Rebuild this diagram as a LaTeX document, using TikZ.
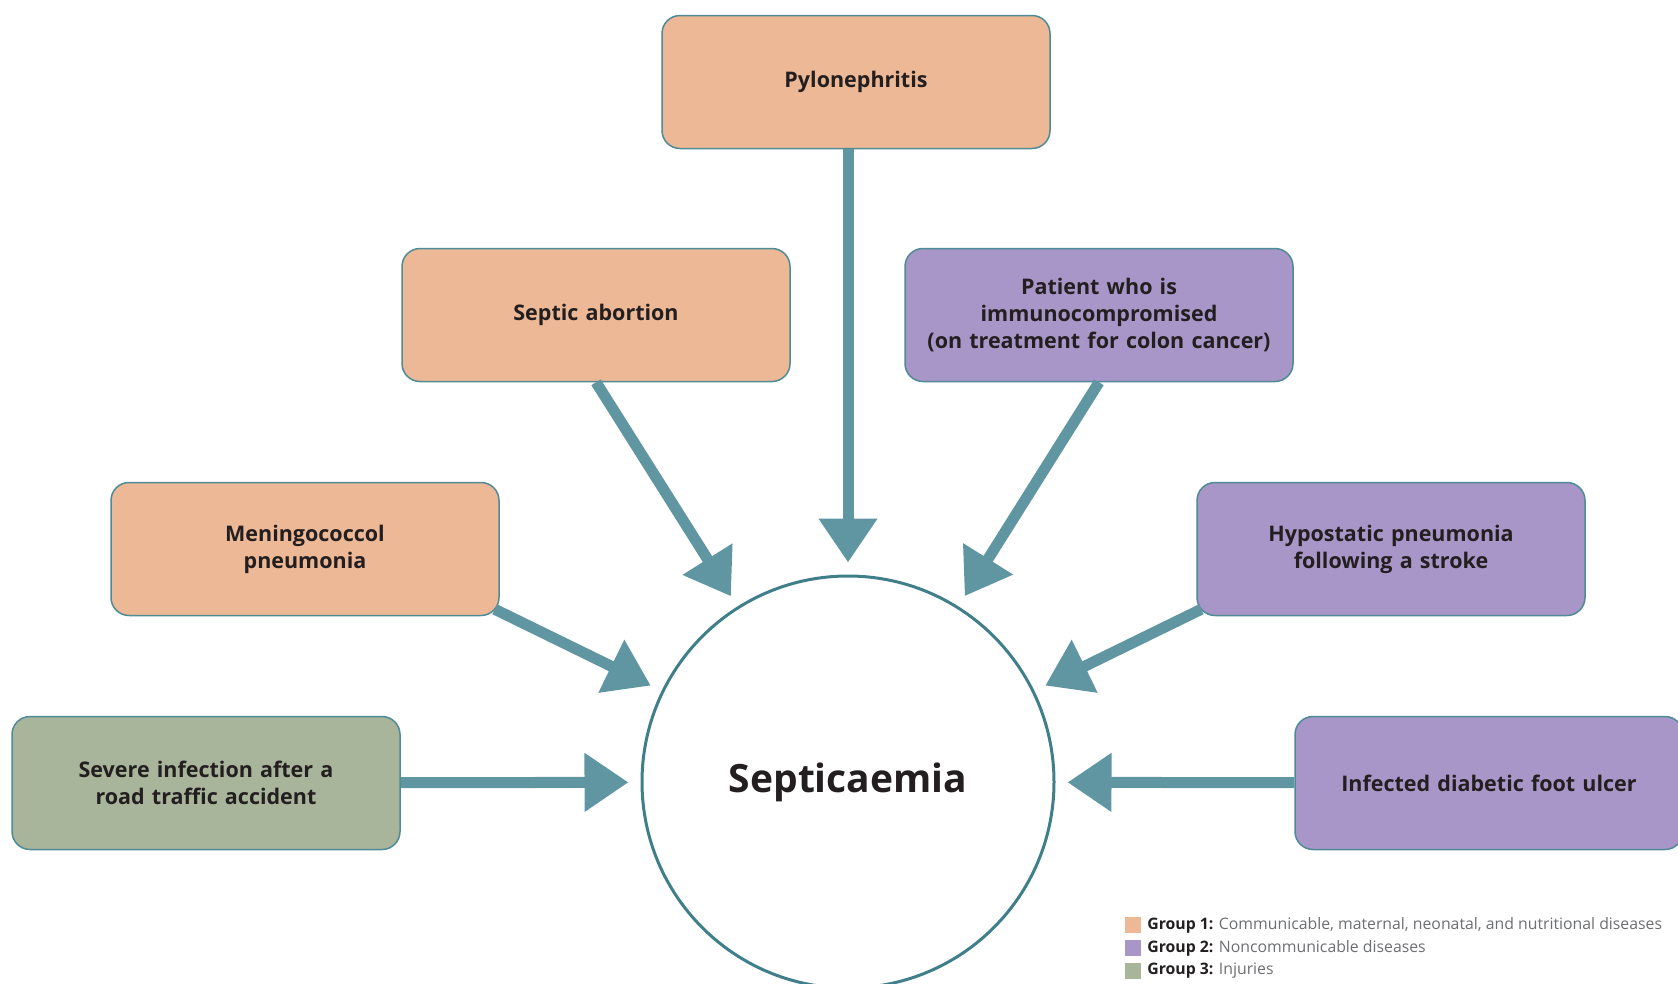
\documentclass[tikz,border=0pt]{standalone}
\usepackage{fontspec}
\setmainfont{Open Sans}
\usepackage{xcolor}
\usepackage{tikz}
\usetikzlibrary{shapes.geometric, arrows.meta, positioning}
\definecolor{grpone}{HTML}{ECB896}
\definecolor{grptwo}{HTML}{A996C8}
\definecolor{grpthree}{HTML}{A9B59B}
\definecolor{edgeteal}{HTML}{4E8B96}
\definecolor{arrowteal}{HTML}{5F96A1}
\definecolor{ringteal}{HTML}{3F7F8A}
\definecolor{textdark}{HTML}{231F20}
\definecolor{legray}{HTML}{6D6E71}
\tikzstyle{cause} = [rectangle, rounded corners=18pt, minimum width=388pt, minimum height=133pt, text width=370pt, align=center, draw=edgeteal, line width=1.5pt, text=textdark, font=\fontsize{21.5}{27}\selectfont\bfseries]
\tikzstyle{groupone} = [cause, fill=grpone]
\tikzstyle{grouptwo} = [cause, fill=grptwo]
\tikzstyle{groupthree} = [cause, fill=grpthree]
\tikzstyle{result} = [circle, minimum size=412pt, draw=ringteal, line width=3pt, fill=white, text=textdark, font=\fontsize{39}{45}\selectfont\bfseries]
\tikzstyle{arrow} = [line width=11pt, draw=arrowteal, -{Triangle[width=56pt,length=44pt]}, shorten >=12pt]
\tikzstyle{legsquare} = [rectangle, minimum size=16pt, inner sep=0pt]
\tikzstyle{legtext} = [inner sep=0pt, text=textdark, font=\fontsize{15.8}{18}\selectfont]

\begin{document}
\begin{tikzpicture}[x=1pt, y=-1pt]
	\useasboundingbox (0,0) rectangle (1678,983);

	\node (sepsis) [result] at (848,782) {Septicaemia};

	\node (pyelo) [groupone] at (856,82) {Pylonephritis};
	\node (abort) [groupone] at (596,315) {Septic abortion};
	\node (immuno) [grouptwo] at (1099,315) {Patient who is\\immunocompromised\\(on treatment for colon cancer)};
	\node (mening) [groupone] at (305,549) {Meningococcol\\pneumonia};
	\node (hypo) [grouptwo] at (1391,549) {Hypostatic pneumonia\\following a stroke};
	\node (trauma) [groupthree] at (206,783) {Severe infection after a\\road traffic accident};
	\node (foot) [grouptwo] at (1489,783) {Infected diabetic foot ulcer};

	\draw [arrow] (pyelo.south -| sepsis) -- (sepsis);
	\draw [arrow] (abort.south) -- (sepsis);
	\draw [arrow] (immuno.south) -- (sepsis);
	\draw [arrow] ([shift={(-5,-7)}]mening.south east) -- (sepsis);
	\draw [arrow] ([shift={(5,-7)}]hypo.south west) -- (sepsis);
	\draw [arrow] (trauma) -- (sepsis);
	\draw [arrow] (foot) -- (sepsis);

	% legend
	\node (sqone) [legsquare, fill=grpone] at (1133,925) {};
	\node (sqtwo) [legsquare, fill=grptwo, below=6.5pt of sqone] {};
	\node (sqthree) [legsquare, fill=grpthree, below=6.5pt of sqtwo] {};
	\node (legone) [legtext, right=6pt of sqone] {\textbf{Group 1:} \textcolor{legray}{Communicable, maternal, neonatal, and nutritional diseases}};
	\node (legtwo) [legtext, right=6pt of sqtwo] {\textbf{Group 2:} \textcolor{legray}{Noncommunicable diseases}};
	\node (legthree) [legtext, right=6pt of sqthree] {\textbf{Group 3:} \textcolor{legray}{Injuries}};

\end{tikzpicture}
\end{document}
